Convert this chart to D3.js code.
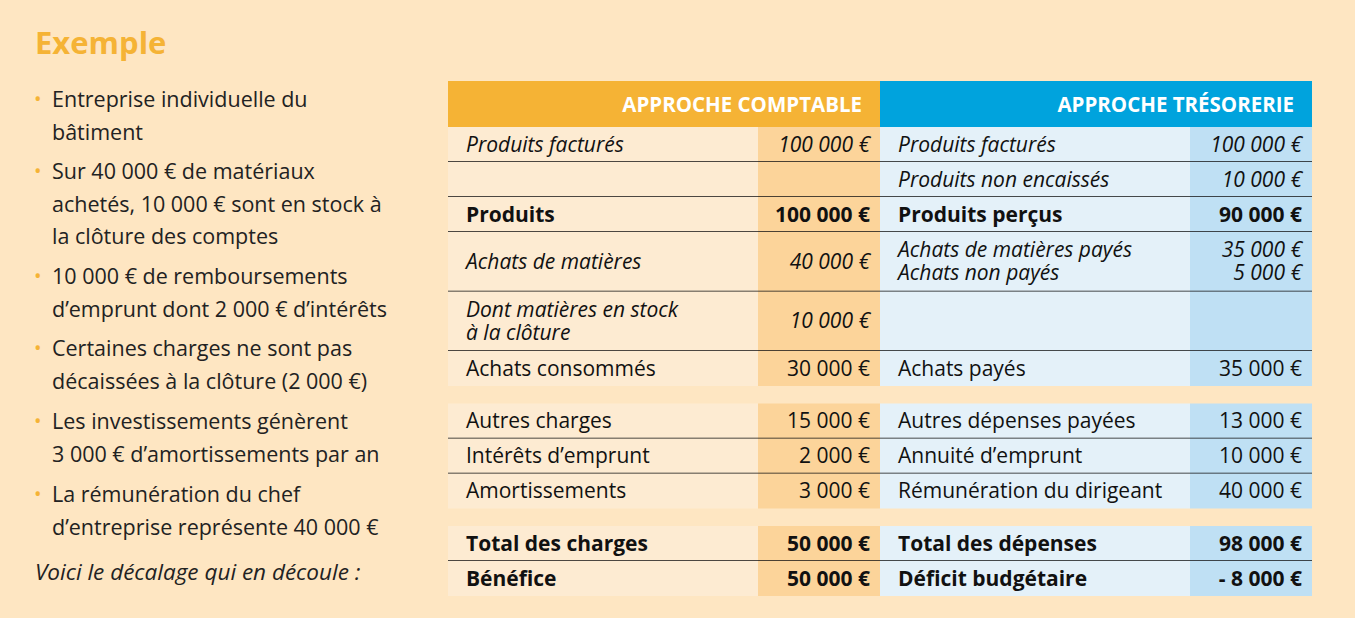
<!DOCTYPE html>
<html><head><meta charset="utf-8">
<script src="https://cdn.jsdelivr.net/npm/d3@7"></script>
<style>body{margin:0;background:#FEE6C2;}svg{display:block;font-family:"Open Sans",sans-serif;}</style>
</head><body><svg id="c" width="1355" height="618"></svg>
<script>
const leftLabels=[["Produits facturés"],[""],["Produits"],["Achats de matières"],["Dont matières en stock","à la clôture"],["Achats consommés"],null,["Autres charges"],["Intérêts d’emprunt"],["Amortissements"],null,["Total des charges"],["Bénéfice"]];
const leftValues=[["100 000 €"],[""],["100 000 €"],["40 000 €"],["10 000 €"],["30 000 €"],null,["15 000 €"],["2 000 €"],["3 000 €"],null,["50 000 €"],["50 000 €"]];
const rightLabels=[["Produits facturés"],["Produits non encaissés"],["Produits perçus"],["Achats de matières payés","Achats non payés"],[""],["Achats payés"],null,["Autres dépenses payées"],["Annuité d’emprunt"],["Rémunération du dirigeant"],null,["Total des dépenses"],["Déficit budgétaire"]];
const rightValues=[["100 000 €"],["10 000 €"],["90 000 €"],["35 000 €","5 000 €"],[""],["35 000 €"],null,["13 000 €"],["10 000 €"],["40 000 €"],null,["98 000 €"],["- 8 000 €"]];
const rowStyles=["italic","italic","bold","italic","italic","normal",null,"normal","normal","normal",null,"bold","bold"];
const rowUnits=[1,1,1,1.7,1.7,1,0.5,1,1,1,0.5,1,1];
const bullets=[["Entreprise individuelle du","bâtiment"],["Sur 40 000 € de matériaux","achetés, 10 000 € sont en stock à","la clôture des comptes"],["10 000 € de remboursements","d’emprunt dont 2 000 € d’intérêts"],["Certaines charges ne sont pas","décaissées à la clôture (2 000 €)"],["Les investissements génèrent","3 000 € d’amortissements par an"],["La rémunération du chef","d’entreprise représente 40 000 €"]];
const bulletY=[99,171,276,348,421,494];

const svg=d3.select("#c");
svg.append("text").attr("x",35).attr("y",54).text("Exemple").attr("fill","#F5B335").attr("font-size",31).attr("font-weight","bold");
bullets.forEach((b,i)=>{
  svg.append("text").attr("x",34).attr("y",bulletY[i]+7).text("•").attr("fill","#F5B335").attr("font-size",20);
  b.forEach((l,j)=>svg.append("text").attr("x",52).attr("y",bulletY[i]+j*32.5+8).text(l).attr("font-size",21.5).attr("fill","#222"));
});
svg.append("text").attr("x",35).attr("y",580).text("Voici le décalage qui en découle :").attr("font-size",22.5).attr("font-style","italic").attr("fill","#222");

const x=d3.scaleOrdinal().domain([0,1,2,3]).range([448,758,880,1190]);
const w=[310,122,310,122];
const fills=["#FDEBD2","#FCD49A","#E4F1F9","#BFE0F4"];
const unitPx=35;
let y0=127;const ys=rowUnits.map(u=>{const y=y0;y0+=u*unitPx;return y;});
svg.append("rect").attr("x",448).attr("y",81).attr("width",432).attr("height",46).attr("fill","#F5B335");
svg.append("rect").attr("x",880).attr("y",81).attr("width",432).attr("height",46).attr("fill","#00A3DD");
svg.append("text").attr("x",862).attr("y",112).attr("text-anchor","end").text("APPROCHE COMPTABLE").attr("fill","#fff").attr("font-weight","bold").attr("font-size",20.5);
svg.append("text").attr("x",1294).attr("y",112).attr("text-anchor","end").text("APPROCHE TRÉSORERIE").attr("fill","#fff").attr("font-weight","bold").attr("font-size",20.5);
const cols=[leftLabels,leftValues,rightLabels,rightValues];
rowUnits.forEach((u,i)=>{
  if(rowStyles[i]===null)return;
  const h=u*unitPx;
  cols.forEach((col,c)=>{
    svg.append("rect").attr("x",x(c)).attr("y",ys[i]).attr("width",w[c]).attr("height",h).attr("fill",fills[c]);
    const lines=col[i];const n=lines.length;
    lines.forEach((t,k)=>{
      const ty=ys[i]+h/2+(k-(n-1)/2)*23+7;
      const isVal=c%2===1;
      svg.append("text").attr("x",isVal?x(c)+w[c]-10:x(c)+18).attr("y",ty).attr("text-anchor",isVal?"end":"start")
        .text(t).attr("font-size",21).attr("fill","#111")
        .attr("font-style",rowStyles[i]==="italic"?"italic":"normal").attr("font-weight",rowStyles[i]==="bold"?"bold":"normal");
    });
  });
  const next=rowStyles[i+1];
  if(i+1<rowUnits.length&&next!==null){
    svg.append("line").attr("x1",448).attr("x2",1312).attr("y1",ys[i]+h).attr("y2",ys[i]+h).attr("stroke","#111").attr("stroke-width",1.5);
  }
});
</script></body></html>
